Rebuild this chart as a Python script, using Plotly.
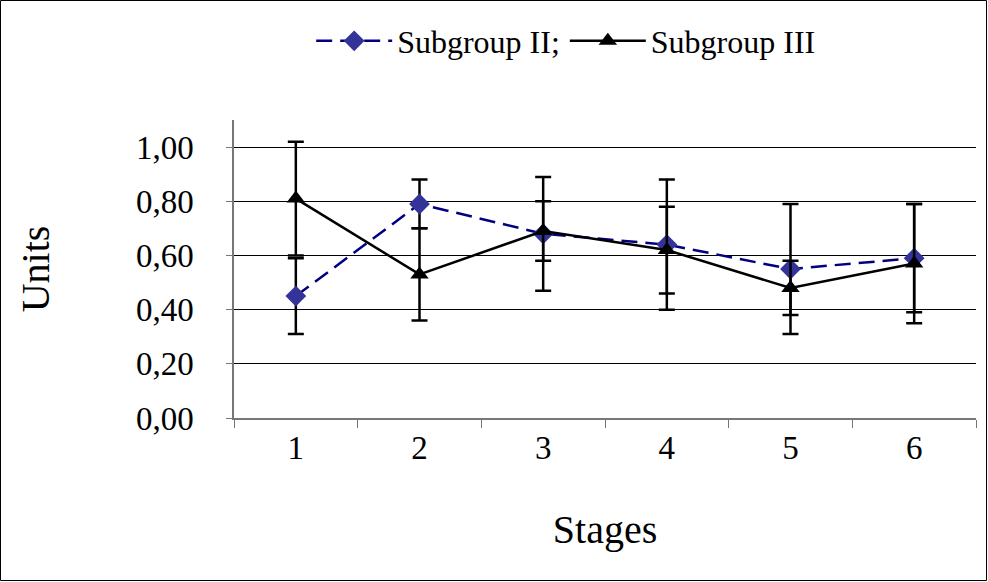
import plotly.graph_objects as go

stages = ["1", "2", "3", "4", "5", "6"]
sub2 = [0.45, 0.79, 0.68, 0.64, 0.55, 0.59]
sub2_err = [0.14, 0.09, 0.21, 0.24, 0.24, 0.20]
sub3 = [0.81, 0.53, 0.69, 0.62, 0.48, 0.57]
sub3_err = [0.21, 0.17, 0.11, 0.16, 0.10, 0.22]
y_ticks = [0.0, 0.2, 0.4, 0.6, 0.8, 1.0]
y_tick_labels = ["0,00", "0,20", "0,40", "0,60", "0,80", "1,00"]

FONT = "Times New Roman, Liberation Serif, serif"
W, H = 988, 582
ML, MR, MT, MB = 234, 12, 120, 164

fig = go.Figure()
fig.add_trace(go.Scatter(
    x=stages, y=sub2, name="Subgroup II;", mode="lines+markers",
    line=dict(color="#000080", width=2.5, dash="16px,8px"),
    marker=dict(symbol="diamond", size=16, color="#333399"),
    error_y=dict(type="data", array=sub2_err, color="black", thickness=2.5, width=8),
))
fig.add_trace(go.Scatter(
    x=stages, y=sub3, name="Subgroup III", mode="lines+markers",
    line=dict(color="black", width=2.5),
    marker=dict(symbol="triangle-up", size=16, color="black"),
    error_y=dict(type="data", array=sub3_err, color="black", thickness=2.5, width=8),
))

pw = W - ML - MR
ph = H - MT - MB
fig.add_shape(type="rect", xref="paper", yref="paper",
              x0=-(ML - 0.5) / pw, x1=1 + (MR - 1.5) / pw,
              y0=-(MB - 1.5) / ph, y1=1 + (MT - 0.5) / ph,
              line=dict(color="black", width=1))

fig.update_layout(
    width=W, height=H,
    margin=dict(l=ML, r=MR, t=MT, b=MB),
    paper_bgcolor="white", plot_bgcolor="white",
    font=dict(family=FONT, size=33, color="black"),
    showlegend=True,
    legend=dict(orientation="h", x=0.104, y=1.265, xanchor="left", yanchor="middle",
                itemwidth=76, font=dict(size=32), bgcolor="rgba(0,0,0,0)",
                tracegroupgap=0),
    xaxis=dict(type="category", tickson="boundaries", ticks="outside", ticklen=8,
               tickcolor="#777", showline=True, linecolor="#777", linewidth=1.5,
               showgrid=False, range=[-0.5, 5.5],
               title=dict(text="Stages", standoff=50), tickfont=dict(size=33)),
    yaxis=dict(range=[0, 1.1], tickvals=y_ticks, ticktext=y_tick_labels,
               ticks="outside", ticklen=6, tickcolor="#777",
               showline=True, linecolor="#777", linewidth=1.5,
               showgrid=True, gridcolor="black", gridwidth=1,
               zeroline=False, ticklabelstandoff=26,
               title=dict(text="Units", standoff=74), tickfont=dict(size=33)),
)

fig.write_html("out.html", config={"displayModeBar": False},
               post_script="document.body.style.margin='0';")
